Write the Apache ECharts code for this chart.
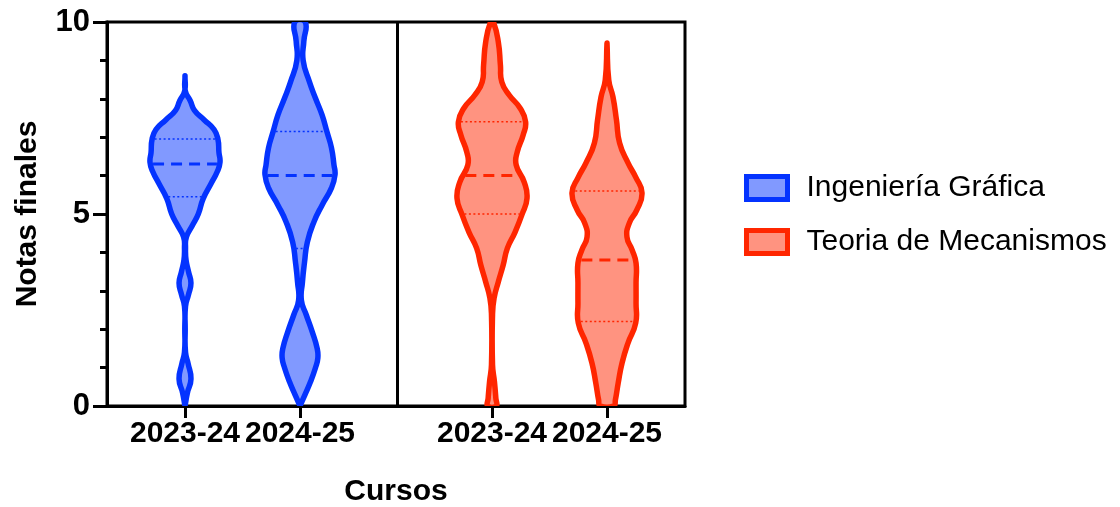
<!DOCTYPE html>
<html>
<head>
<meta charset="utf-8">
<script src="https://cdn.jsdelivr.net/npm/echarts@6/dist/echarts.min.js"></script>
<style>
  html, body { margin: 0; padding: 0; background: #fff; }
  #main { width: 1120px; height: 507px; }
</style>
</head>
<body>
<div id="main"></div>
<script>
// cursos y grupos
const cursos = ['2023-24', '2024-25'];
const grupos = ['Ingeniería Gráfica', 'Teoria de Mecanismos'];

// perfil de cada violín: [nota, anchura relativa (1 = máxima)]
const ingGraf2324 = [[0, 0], [0.35, 0.07], [0.7, 0.17], [1.1, 0.09], [1.4, 0.015], [2.0, 0.006], [2.6, 0.015],
  [2.9, 0.1], [3.2, 0.17], [3.5, 0.1], [3.8, 0.03], [4.1, 0.015], [4.4, 0.04], [4.7, 0.21], [5.0, 0.38],
  [5.4, 0.52], [5.8, 0.75], [6.1, 0.92], [6.35, 1.0], [6.6, 0.97], [6.95, 0.94], [7.2, 0.83], [7.45, 0.55],
  [7.7, 0.27], [7.95, 0.15], [8.2, 0.01], [8.6, 0]];
const ingGraf2425 = [[0, 0], [0.29, 0.14], [0.63, 0.3], [0.99, 0.44], [1.25, 0.51], [1.5, 0.49], [1.93, 0.35],
  [2.37, 0.18], [2.75, 0.04], [3.23, 0.07], [3.75, 0.13], [4.27, 0.21], [4.8, 0.4], [5.23, 0.63], [5.68, 0.9],
  [6.02, 1.0], [6.28, 0.97], [6.72, 0.9], [7.14, 0.77], [7.58, 0.63], [8.02, 0.44], [8.44, 0.27], [9.0, 0.09],
  [9.5, 0.11], [10, 0.15]];
const teoMec2324 = [[0, 0.12], [0.2, 0.11], [0.63, 0.07], [1.07, 0.015], [2.37, 0.015], [2.81, 0.06], [3.23, 0.18],
  [3.67, 0.32], [4.11, 0.44], [4.53, 0.66], [4.97, 0.85], [5.41, 1.0], [5.83, 0.92], [6.28, 0.69], [6.61, 0.72],
  [7.06, 0.89], [7.4, 0.96], [7.76, 0.8], [8.1, 0.49], [8.44, 0.28], [8.88, 0.24], [9.48, 0.18], [10, 0.04]];
const teoMec2425 = [[0, 0.19], [0.16, 0.24], [0.6, 0.32], [1.12, 0.43], [1.64, 0.6], [2.16, 0.82], [2.68, 0.83],
  [3.2, 0.83], [3.72, 0.83], [4.06, 0.72], [4.4, 0.57], [4.77, 0.64], [5.1, 0.85], [5.55, 1.0], [5.96, 0.82],
  [6.33, 0.6], [6.85, 0.36], [7.45, 0.27], [8.05, 0.17], [8.49, 0.05], [9.45, 0]];

// mediana y cuartiles (por curso)
const medianaIG = [6.3, 6.0];
const q1IG = [5.45, 4.1];
const q3IG = [6.95, 7.15];
const medianaTM = [6.0, 3.8];
const q1TM = [5.0, 2.2];
const q3TM = [7.4, 5.6];

// marcas del eje y
const ticksY = [0, 5, 10];

// eje x en píxeles del área de trazado
const ANCHO = 35;
const posIG = [78, 193];
const posTM = [385, 500];
const SEPARADOR = 290;
const FUENTE = '"Liberation Sans", Arial, sans-serif';

function anchoEn(perfil, y) {
  for (let k = 1; k < perfil.length; k++) {
    if (y <= perfil[k][0]) {
      const a = perfil[k - 1], b = perfil[k];
      const t = (y - a[0]) / (b[0] - a[0]);
      return a[1] + t * (b[1] - a[1]);
    }
  }
  return 0;
}

function violin(perfiles, medianas, q1s, q3s, pos, borde, relleno) {
  return function (params, api) {
    const i = params.dataIndex;
    const perfil = perfiles[i];
    const cx = pos[i];
    const dcha = perfil.map(p => api.coord([cx + p[1] * ANCHO, p[0]]));
    const izq = perfil.slice().reverse().map(p => api.coord([cx - p[1] * ANCHO, p[0]]));
    const hijos = [{
      type: 'polygon',
      shape: { points: dcha.concat(izq), smooth: 0.5 },
      style: { fill: relleno, stroke: borde, lineWidth: 5.5, lineJoin: 'round' }
    }];
    const linea = (y, estilo) => {
      const w = Math.max(anchoEn(perfil, y) * ANCHO - 2.5, 0);
      const a = api.coord([cx - w, y]), b = api.coord([cx + w, y]);
      hijos.push({
        type: 'line',
        shape: { x1: a[0], y1: a[1], x2: b[0], y2: b[1] },
        style: Object.assign({ stroke: borde }, estilo)
      });
    };
    linea(q1s[i], { lineWidth: 1.5, lineDash: [2, 2.5] });
    linea(q3s[i], { lineWidth: 1.5, lineDash: [2, 2.5] });
    linea(medianas[i], { lineWidth: 3, lineDash: [11, 7] });
    return { type: 'group', children: hijos };
  };
}

const chart = echarts.init(document.getElementById('main'));

const etiquetas = {};
posIG.forEach((p, i) => { etiquetas[p] = cursos[i]; });
posTM.forEach((p, i) => { etiquetas[p] = cursos[i]; });
const marcasX = posIG.concat(posTM);

const option = {
  animation: false,
  grid: {
    left: 107, right: 435, top: 22, bottom: 101,
    outerBoundsMode: 'none',
    show: true, borderColor: '#000', borderWidth: 3
  },
  legend: {
    orient: 'vertical',
    left: 739, top: 168,
    itemWidth: 41, itemHeight: 23, itemGap: 24,
    icon: 'rect',
    textStyle: { fontSize: 30, color: '#000', fontFamily: FUENTE, padding: [0, 0, 0, 14] },
    data: [
      { name: grupos[0], itemStyle: { color: '#8199FF', borderColor: '#0433FF', borderWidth: 5 } },
      { name: grupos[1], itemStyle: { color: '#FF9380', borderColor: '#FF2600', borderWidth: 5 } }
    ]
  },
  xAxis: {
    type: 'value', min: 0, max: 578,
    name: 'Cursos', nameLocation: 'middle', nameGap: 71,
    nameTextStyle: { fontSize: 30, fontWeight: 'bold', color: '#000', fontFamily: FUENTE },
    axisLine: { lineStyle: { color: '#000', width: 3 } },
    axisTick: { customValues: marcasX, length: 12, lineStyle: { color: '#000', width: 3 } },
    axisLabel: {
      customValues: marcasX, margin: 13,
      formatter: v => etiquetas[v] || '',
      fontSize: 30, fontWeight: 'bold', color: '#000', fontFamily: FUENTE
    },
    splitLine: { show: false }
  },
  yAxis: {
    type: 'value', min: 0, max: 10, interval: 5,
    name: 'Notas finales', nameLocation: 'middle', nameGap: 64,
    nameTextStyle: { fontSize: 30, fontWeight: 'bold', color: '#000', fontFamily: FUENTE },
    axisLine: { show: true, lineStyle: { color: '#000', width: 3 } },
    axisTick: { show: true, length: 14, lineStyle: { color: '#000', width: 3 } },
    minorTick: { show: true, splitNumber: 5, length: 7, lineStyle: { color: '#000', width: 3 } },
    axisLabel: {
      margin: 17, fontSize: 31, fontWeight: 'bold', color: '#000', fontFamily: FUENTE,
      formatter: v => ticksY.includes(v) ? String(v) : ''
    },
    splitLine: { show: false }
  },
  series: [
    {
      name: grupos[0], type: 'custom', clip: true, z: 3,
      itemStyle: { color: '#8199FF', borderColor: '#0433FF' },
      renderItem: violin([ingGraf2324, ingGraf2425], medianaIG, q1IG, q3IG, posIG, '#0433FF', '#8199FF'),
      data: [0, 1],
      markLine: {
        silent: true, symbol: 'none', label: { show: false },
        lineStyle: { color: '#000', width: 3, type: 'solid' },
        data: [{ xAxis: SEPARADOR }]
      }
    },
    {
      name: grupos[1], type: 'custom', clip: true, z: 3,
      itemStyle: { color: '#FF9380', borderColor: '#FF2600' },
      renderItem: violin([teoMec2324, teoMec2425], medianaTM, q1TM, q3TM, posTM, '#FF2600', '#FF9380'),
      data: [0, 1]
    }
  ]
};

chart.setOption(option);
</script>
</body>
</html>
